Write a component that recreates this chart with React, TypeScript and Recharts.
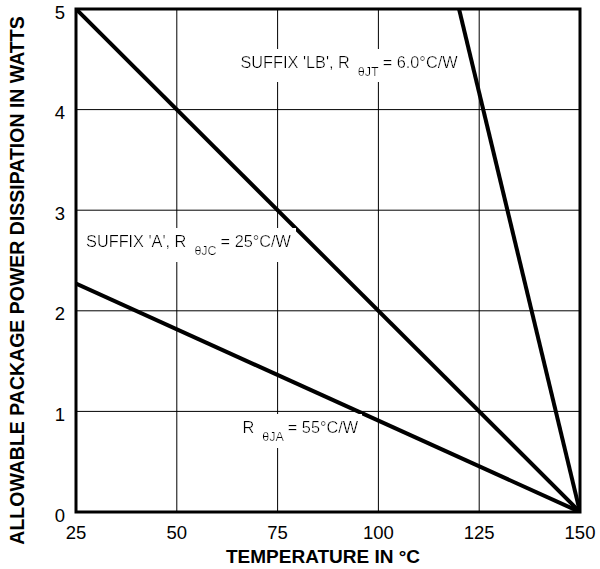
import React from 'react';
import {
  LineChart,
  Line,
  XAxis,
  YAxis,
  CartesianGrid,
  ReferenceArea,
  ReferenceDot,
} from 'recharts';

// ---- data ----
const xTicks = [25, 50, 75, 100, 125, 150];
const yTicks = [0, 1, 2, 3, 4, 5];
const seriesJA = [
  { t: 25, p: 2.27 },
  { t: 150, p: 0 },
];
const seriesA = [
  { t: 25, p: 5 },
  { t: 150, p: 0 },
];
const seriesLB = [
  { t: 120, p: 5 },
  { t: 150, p: 0 },
];
const annotations = [
  { id: 'lb', t: 65.8, p: 4.47, main: "SUFFIX 'LB', R", sub: 'θJT', tail: '= 6.0°C/W' },
  { id: 'a', t: 27.5, p: 2.69, main: "SUFFIX 'A', R", sub: 'θJC', tail: '= 25°C/W' },
  { id: 'ja', t: 66.3, p: 0.84, main: 'R', sub: 'θJA', tail: '= 55°C/W' },
];
const xTitle = 'TEMPERATURE IN °C';
const yTitle = 'ALLOWABLE PACKAGE POWER DISSIPATION IN WATTS';

const FONT = '"Liberation Sans", Arial, Helvetica, sans-serif';

const makeAnnotationShape = (a: typeof annotations[number]) => (props: any) => {
  const cx = props.cx;
  const cy = props.cy;
  const fid = `bg-${a.id}`;
  return (
    <g>
      <defs>
        <filter id={fid} x="-0.02" y="-0.12" width="1.04" height="1.24">
          <feFlood floodColor="#ffffff" />
          <feComposite in="SourceGraphic" operator="over" />
        </filter>
      </defs>
      <text
        x={cx}
        y={cy + 5.5}
        fontSize={16.3}
        fontFamily={FONT}
        fill="#000"
        filter={`url(#${fid})`}
      >
        {a.main}
        <tspan dx={8} dy={8} fontSize={12.5}>
          {a.sub}
        </tspan>
        <tspan dx={4} dy={-8} fontSize={16.3}>
          {a.tail}
        </tspan>
      </text>
    </g>
  );
};

const XTitle = (props: any) => {
  const vb = props.viewBox || { x: 76, y: 512, width: 504, height: 57 };
  const cx = vb.x + vb.width / 2 - 5;
  const cy = vb.y + 44;
  return (
    <text
      x={cx}
      y={cy}
      textAnchor="middle"
      dominantBaseline="central"
      fontSize={19}
      fontWeight="bold"
      fontFamily={FONT}
      fill="#000"
    >
      {xTitle}
    </text>
  );
};

const YTitle = (props: any) => {
  const vb = props.viewBox || { x: 0, y: 9, width: 76, height: 503 };
  const cx = vb.x + 17;
  const cy = vb.y + vb.height / 2 + 20;
  return (
    <text
      x={cx}
      y={cy}
      transform={`rotate(-90 ${cx} ${cy})`}
      textAnchor="middle"
      dominantBaseline="central"
      fontSize={19.5}
      fontWeight="bold"
      fontFamily={FONT}
      fill="#000"
    >
      {yTitle}
    </text>
  );
};

export default function App() {
  return (
    <div style={{ width: 600, height: 569, background: '#fff' }}>
      <style>{'body{margin:0;background:#fff}'}</style>
      <LineChart
        width={600}
        height={569}
        margin={{ top: 9, right: 20, bottom: 0, left: 0 }}
      >
        <CartesianGrid stroke="#000" strokeWidth={1} />
        <XAxis
          type="number"
          dataKey="t"
          domain={[25, 150]}
          ticks={xTicks}
          interval={0}
          allowDataOverflow
          height={57}
          tickLine={false}
          axisLine={false}
          tickSize={6}
          tickMargin={8}
          tick={{ fill: '#000', fontSize: 18.5, fontFamily: FONT }}
          label={<XTitle />}
        />
        <YAxis
          type="number"
          dataKey="p"
          domain={[0, 5]}
          ticks={yTicks}
          interval={0}
          allowDataOverflow
          width={76}
          tickLine={false}
          axisLine={false}
          tickSize={6}
          tickMargin={5}
          tick={{ fill: '#000', fontSize: 18.5, fontFamily: FONT, dy: 3 }}
          label={<YTitle />}
        />
        {annotations.map((a) => (
          <ReferenceDot
            key={a.id}
            x={a.t}
            y={a.p}
            r={0}
            ifOverflow="visible"
            shape={makeAnnotationShape(a)}
          />
        ))}
        <Line
          data={seriesJA}
          dataKey="p"
          stroke="#000"
          strokeWidth={4}
          dot={false}
          activeDot={false}
          isAnimationActive={false}
        />
        <Line
          data={seriesA}
          dataKey="p"
          stroke="#000"
          strokeWidth={4}
          dot={false}
          activeDot={false}
          isAnimationActive={false}
        />
        <Line
          data={seriesLB}
          dataKey="p"
          stroke="#000"
          strokeWidth={4}
          dot={false}
          activeDot={false}
          isAnimationActive={false}
        />
        <ReferenceArea
          x1={25}
          x2={150}
          y1={0}
          y2={5}
          fill="none"
          fillOpacity={0}
          stroke="#000"
          strokeWidth={3}
          ifOverflow="visible"
        />
      </LineChart>
    </div>
  );
}
